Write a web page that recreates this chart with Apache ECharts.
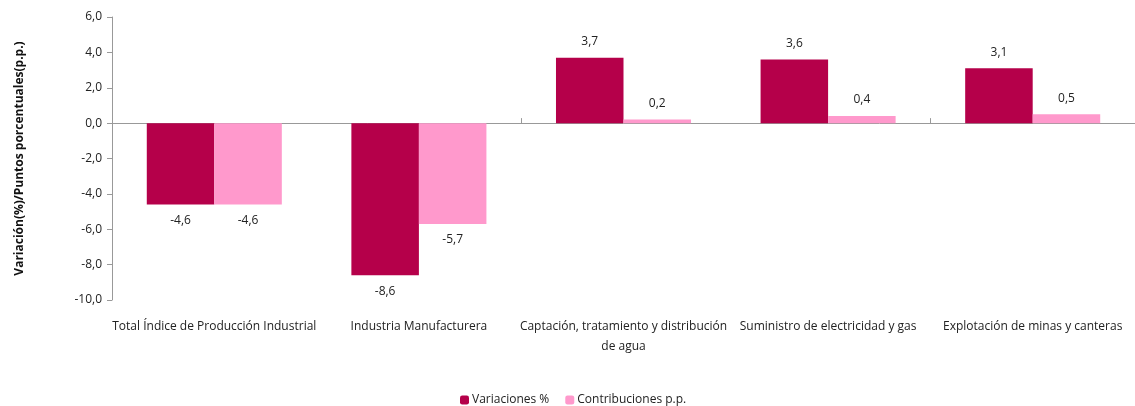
<!DOCTYPE html>
<html><head><meta charset="utf-8">
<script src="https://cdn.jsdelivr.net/npm/echarts@6/dist/echarts.min.js"></script>
<style>html,body{margin:0;padding:0;background:#fff}#c{width:1135px;height:406px}</style>
</head><body><div id="c"></div>
<script>
const categories = ["Total Índice de Producción Industrial","Industria Manufacturera","Captación, tratamiento y distribución\nde agua","Suministro de electricidad y gas","Explotación de minas y canteras"];
const variaciones = [-4.6, -8.6, 3.7, 3.6, 3.1];
const contribuciones = [-4.6, -5.7, 0.2, 0.4, 0.5];
const yTicks = {min: -10, max: 6, interval: 2};
const FONT = "'Liberation Sans Narrow','Open Sans',sans-serif";
const fmt = v => v.toFixed(1).replace('.', ',');
const lbl = {
  show: true, fontFamily: FONT, fontSize: 12, color: '#222', distance: 10,
  formatter: p => fmt(p.value)
};
function data(arr){ return arr.map(v => ({value: v, label: {position: v < 0 ? 'bottom' : 'top'}})); }
const chart = echarts.init(document.getElementById('c'));
chart.setOption({
  animation: false,
  grid: {left: 112, top: 17, width: 1030, height: 283},
  legend: {
    top: 389, left: 455, itemWidth: 9, itemHeight: 9, itemGap: 16,
    textStyle: {fontFamily: FONT, fontSize: 12, color: '#222', padding: [0, 0, 0, -2]},
    data: ['Variaciones %', 'Contribuciones p.p.']
  },
  xAxis: [
    {type: 'category', data: categories, position: 'bottom',
     axisLine: {show: false, onZero: false}, axisTick: {show: false},
     axisLabel: {fontFamily: FONT, fontSize: 12, color: '#222', margin: 17, interval: 0, lineHeight: 20}},
    {type: 'category', data: categories,
     axisLine: {show: true, onZero: true, lineStyle: {color: '#999'}},
     axisTick: {show: true, length: 5, lineStyle: {color: '#999'}},
     axisLabel: {show: false}}
  ],
  yAxis: {
    type: 'value', min: yTicks.min, max: yTicks.max, interval: yTicks.interval,
    name: 'Variación(%)/Puntos porcentuales(p.p.)', nameLocation: 'middle', nameGap: 86,
    nameTextStyle: {fontFamily: "'Open Sans',sans-serif", fontWeight: 'bold', fontSize: 12, color: '#111'},
    axisLine: {show: true, lineStyle: {color: '#999'}},
    axisTick: {show: true, length: 5, lineStyle: {color: '#999'}},
    splitLine: {show: false},
    axisLabel: {fontFamily: FONT, fontSize: 12, color: '#222', margin: 10, formatter: v => fmt(v)}
  },
  series: [
    {name: 'Variaciones %', type: 'bar', data: data(variaciones), xAxisIndex: 0,
     itemStyle: {color: '#B5004A'}, barGap: '0%', barCategoryGap: '34%', label: lbl},
    {name: 'Contribuciones p.p.', type: 'bar', data: data(contribuciones), xAxisIndex: 0,
     itemStyle: {color: '#FF99CC'}, barGap: '0%', barCategoryGap: '34%', label: lbl}
  ]
});
</script></body></html>
